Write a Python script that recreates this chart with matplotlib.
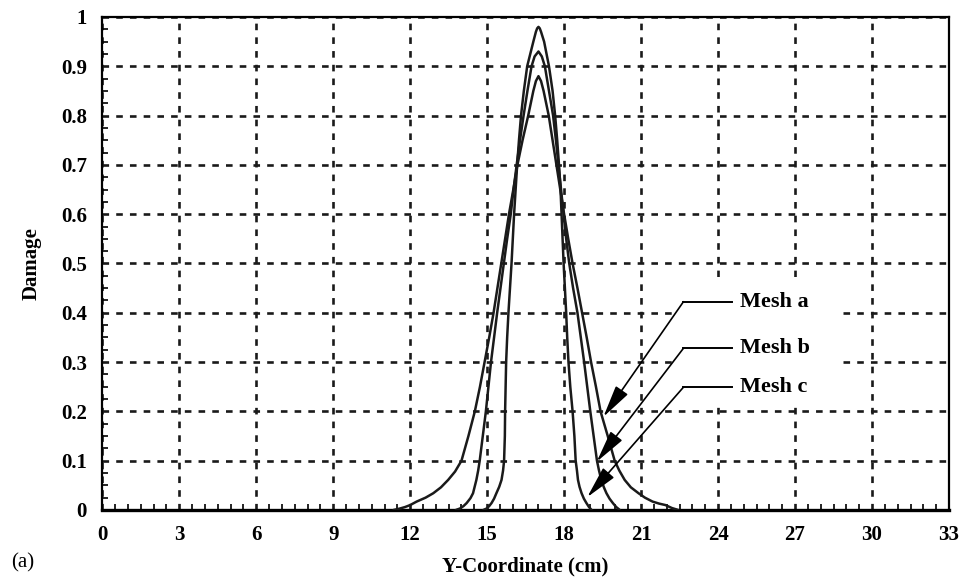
import matplotlib
matplotlib.use("Agg")
import matplotlib.pyplot as plt
from matplotlib.ticker import MultipleLocator
from matplotlib.patches import Rectangle

plt.rcParams['font.family'] = ['Liberation Serif', 'DejaVu Serif']

# Mesh a (coarse, peak 0.88)
xa = [11.35, 11.6, 11.8, 12.0, 12.25, 12.6, 12.9, 13.2, 13.48, 13.75, 14.0, 14.27, 14.52, 14.72,
      14.9, 15.08, 15.25, 15.4, 15.55, 15.7, 15.85, 16.02, 16.18, 16.38, 16.6, 16.8, 16.9, 17.0,
      17.1, 17.2, 17.4, 17.55, 17.7, 17.85, 18.0, 18.16, 18.33, 18.52, 18.7, 18.88, 19.05,
      19.24, 19.42, 19.7, 19.97, 20.15, 20.36, 20.6, 20.9, 21.15, 21.45, 21.7, 21.95, 22.2,
      22.45]
ya = [0.0, 0.003, 0.006, 0.01, 0.017, 0.025, 0.034, 0.046, 0.061, 0.078, 0.1, 0.15, 0.2, 0.25,
      0.3, 0.35, 0.4, 0.45, 0.5, 0.55, 0.6, 0.65, 0.7, 0.75, 0.8, 0.85, 0.87, 0.88,
      0.87, 0.85, 0.8, 0.75, 0.7, 0.65, 0.6, 0.55, 0.5, 0.45, 0.4, 0.35, 0.3,
      0.25, 0.2, 0.15, 0.1, 0.08, 0.061, 0.046, 0.034, 0.025, 0.017, 0.013, 0.01, 0.004,
      0.0]

# Mesh b (peak 0.93)
xb = [13.78, 13.94, 14.08, 14.2, 14.35, 14.45, 14.58, 14.65, 14.71, 14.83, 14.95, 15.05, 15.15,
      15.27, 15.39, 15.52, 15.65, 15.78, 15.92, 16.03, 16.15, 16.28, 16.42, 16.57, 16.73, 16.85,
      17.0, 17.13, 17.25, 17.41, 17.57, 17.68, 17.78, 17.88, 17.98, 18.08, 18.2, 18.35, 18.52,
      18.65, 18.78, 18.9, 19.02, 19.15, 19.28, 19.36, 19.45, 19.55, 19.65, 19.77, 19.9, 20.03,
      20.17]
yb = [0.0, 0.003, 0.008, 0.014, 0.024, 0.034, 0.061, 0.08, 0.1, 0.15, 0.2, 0.25, 0.3,
      0.35, 0.4, 0.45, 0.5, 0.55, 0.6, 0.65, 0.7, 0.75, 0.8, 0.85, 0.9, 0.92,
      0.93, 0.92, 0.9, 0.85, 0.8, 0.75, 0.7, 0.65, 0.6, 0.55, 0.5, 0.45, 0.4,
      0.35, 0.3, 0.25, 0.2, 0.15, 0.1, 0.08, 0.061, 0.046, 0.034, 0.023, 0.014, 0.006,
      0.0]

# Mesh c (fine, peak 0.98)
xc = [14.85, 14.98, 15.08, 15.17, 15.27, 15.36, 15.47, 15.56, 15.62, 15.66, 15.69, 15.7, 15.72,
      15.74, 15.78, 15.83, 15.89, 15.95, 16.0, 16.05, 16.11, 16.17, 16.24, 16.32, 16.43, 16.56,
      16.8, 16.9, 16.95, 17.0, 17.05, 17.1, 17.22, 17.41, 17.55, 17.65, 17.73, 17.8, 17.86,
      17.9, 17.94, 17.98, 18.03, 18.08, 18.12, 18.17, 18.24, 18.33, 18.4, 18.45, 18.5, 18.54,
      18.6, 18.68, 18.77, 18.87, 18.97, 19.07]
yc = [0.0, 0.003, 0.008, 0.014, 0.023, 0.034, 0.047, 0.061, 0.08, 0.1, 0.15, 0.2, 0.25,
      0.3, 0.35, 0.4, 0.45, 0.5, 0.55, 0.6, 0.65, 0.7, 0.75, 0.8, 0.85, 0.9,
      0.95, 0.97, 0.977, 0.98, 0.977, 0.97, 0.95, 0.9, 0.85, 0.8, 0.75, 0.7, 0.65,
      0.6, 0.55, 0.5, 0.45, 0.4, 0.35, 0.3, 0.25, 0.2, 0.15, 0.1, 0.08, 0.061,
      0.047, 0.034, 0.023, 0.014, 0.006, 0.0]

labels = ["Mesh a", "Mesh b", "Mesh c"]
arrow_tips = [(19.53, 0.189), (19.27, 0.098), (18.9, 0.026)]
label_y = [0.4225, 0.328, 0.249]

fig = plt.figure(figsize=(9.62, 5.8), dpi=100)
ax = fig.add_axes([0.1063, 0.1207, 0.8802, 0.85])

for xs, ys in [(xa, ya), (xb, yb), (xc, yc)]:
    ax.plot(xs, ys, color='#1a1a1a', lw=1.8, zorder=4,
            solid_joinstyle='round', solid_capstyle='round')

ax.set_xlim(0, 33)
ax.set_ylim(0, 1)
ax.xaxis.set_major_locator(MultipleLocator(3))
ax.xaxis.set_minor_locator(MultipleLocator(0.5))
ax.yaxis.set_minor_locator(MultipleLocator(0.025))
ax.set_yticks([0, 0.1, 0.2, 0.3, 0.4, 0.5, 0.6, 0.7, 0.8, 0.9, 1.0])
ax.set_yticklabels(['0', '0.1', '0.2', '0.3', '0.4', '0.5', '0.6', '0.7', '0.8', '0.9', '1'])

ax.grid(True, which='major', color='#1a1a1a', lw=1.9, dashes=(2.5, 2.7), zorder=1)
ax.tick_params(which='both', direction='in', top=False, right=False)
ax.tick_params(which='major', length=0, pad=11, labelsize=15)
ax.tick_params(which='minor', length=4, width=1.2)
for lab in ax.get_xticklabels() + ax.get_yticklabels():
    lab.set_fontweight('bold')

for side in ['top', 'right', 'left']:
    ax.spines[side].set_linewidth(1.6)
ax.spines['bottom'].set_linewidth(2.4)

# white box behind the labels, covering the grid
ax.add_patch(Rectangle((22.2, 0.213), 6.45, 0.26, facecolor='white', edgecolor='none', zorder=2))

for lab, (tx, ty), ly in zip(labels, arrow_tips, label_y):
    ax.plot([22.65, 24.53], [ly, ly], color='k', lw=1.4, zorder=5)
    ax.annotate('', xy=(tx, ty), xytext=(22.65, ly),
                arrowprops=dict(arrowstyle='-|>,head_length=2.0,head_width=0.45',
                                mutation_scale=10, color='k', lw=1.2,
                                shrinkA=0, shrinkB=0), zorder=5)
    ax.text(24.85, ly, lab, fontsize=16, fontweight='bold', va='center', ha='left', zorder=5)

ax.set_xlabel('Y-Coordinate (cm)', fontsize=15, fontweight='bold', labelpad=8)
ax.set_ylabel('Damage', fontsize=15, fontweight='bold', labelpad=14)
fig.text(0.012, 0.022, '(a)', fontsize=15)

fig.savefig("out.png", dpi=100)
